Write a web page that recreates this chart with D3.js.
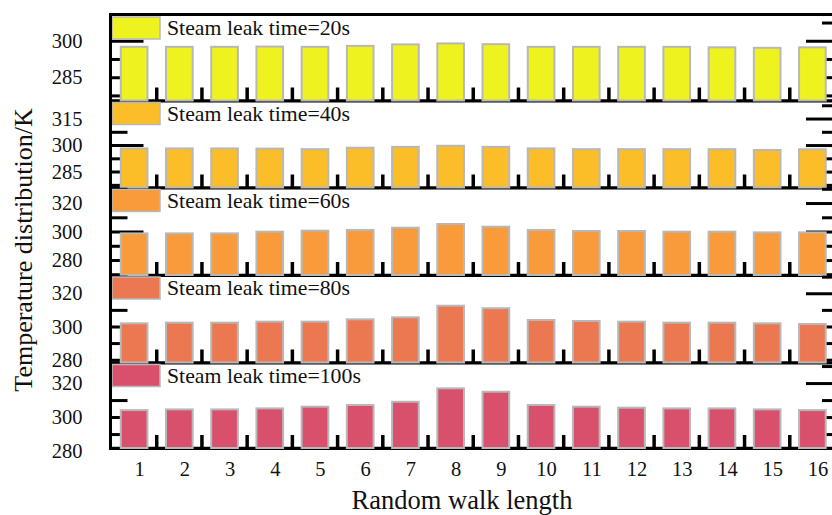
<!DOCTYPE html>
<html>
<head>
<meta charset="utf-8">
<script src="https://cdn.jsdelivr.net/npm/d3@7/dist/d3.min.js"></script>
<style>
  body { margin: 0; background: #fff; }
  text { font-family: "Liberation Serif", "Times New Roman", serif; fill: #111; }
</style>
</head>
<body>
<div id="graph"></div>
<script>
"use strict";

// random walk length categories
const walkLengths = [1, 2, 3, 4, 5, 6, 7, 8, 9, 10, 11, 12, 13, 14, 15, 16];
// steam leak time (s) for each panel
const leakTimes = [20, 40, 60, 80, 100];

// temperature (K) per walk length
const temp20s  = [297.5, 297.5, 297.5, 297.6, 297.5, 297.9, 298.5, 298.9, 298.6, 297.5, 297.5, 297.5, 297.5, 297.3, 297.1, 297.3];
const temp40s  = [298.1, 298.1, 298.1, 298.0, 297.7, 298.5, 299.0, 299.6, 299.0, 298.1, 297.7, 297.7, 297.7, 297.7, 297.2, 297.6];
const temp60s  = [298.7, 298.7, 298.7, 299.9, 300.6, 301.1, 302.7, 305.3, 303.4, 301.1, 300.4, 300.4, 299.9, 299.9, 299.4, 299.4];
const temp80s  = [301.9, 302.3, 302.3, 302.9, 302.9, 304.3, 305.5, 312.5, 311.0, 303.9, 303.3, 302.9, 302.3, 302.3, 301.9, 301.5];
const temp100s = [304.1, 304.5, 304.5, 305.1, 306.1, 307.1, 309.0, 316.9, 314.9, 307.1, 306.1, 305.5, 305.1, 305.1, 304.5, 304.1];

// y ranges and ticks of each panel
const yDomains = [[275.4, 310.6], [276.0, 325.2], [269.5, 330.9], [278.3, 331.0], [281.8, 332.1]];
const yTickLabels = [[300, 285], [315, 300, 285], [320, 300, 280], [320, 300, 280], [320, 300, 280]];
const yMinorTicks = [[277.5, 292.5, 307.5], [277.5, 292.5, 307.5, 322.5], [270, 290, 310, 330], [290, 310, 330], [290, 310, 330]];

const series = [temp20s, temp40s, temp60s, temp80s, temp100s];
const colors = ["#eef21f", "#fbbe29", "#f99b3a", "#ec7852", "#d8506b"];

var width = 832,
    height = 515;

// panel edges top to bottom
const edges = [15, 100.5, 187.5, 275, 362.5, 448];
const left = 110.5, right = 834;

let svg = d3.select("#graph")
    .append("svg")
    .attr("width", width)
    .attr("height", height);

let x = d3.scaleBand()
    .domain(walkLengths)
    .range([111.5, 835])
    .paddingInner(0.41)
    .paddingOuter(0.205);

// boundaries between bars
let bounds = walkLengths.slice(1).map((d, i) => x.range()[0] + x.step() * (i + 1));

series.forEach(function (vals, i) {
    let top = edges[i], bottom = edges[i + 1];
    let dom = yDomains[i];
    let y = d3.scaleLinear().domain(dom).range([bottom, top]);
    let inDom = v => v >= dom[0] && v <= dom[1];
    let g = svg.append("g").attr("class", "panel");

    let majors = yTickLabels[i].filter(inDom);
    let minors = yMinorTicks[i].filter(inDom);

    // ticks pointing inwards, under the bars
    g.append("g").attr("transform", `translate(${left},0)`)
        .call(d3.axisLeft(y).tickValues(majors).tickSize(-33).tickFormat(""));
    g.append("g").attr("transform", `translate(${left},0)`)
        .call(d3.axisLeft(y).tickValues(minors).tickSize(-17).tickFormat(""));
    g.append("g").attr("transform", `translate(${right},0)`)
        .call(d3.axisRight(y).tickValues(majors).tickSize(-28).tickFormat(""));
    g.append("g").attr("transform", `translate(${right},0)`)
        .call(d3.axisRight(y).tickValues(minors).tickSize(-12).tickFormat(""));

    // tick labels
    g.append("g").attr("transform", `translate(${left},0)`)
        .call(d3.axisLeft(y).tickValues(yTickLabels[i]).tickSize(0).tickPadding(28))
        .selectAll("text")
        .attr("font-size", 20.5)
        .attr("font-family", "Liberation Serif, serif");

    g.selectAll(".domain").remove();
    g.selectAll(".tick line").attr("stroke", "#000").attr("stroke-width", 3);

    // baseline
    g.append("line")
        .attr("x1", left).attr("x2", width)
        .attr("y1", bottom + 0.4).attr("y2", bottom + 0.4)
        .attr("stroke", "#000").attr("stroke-width", 3.4);

    g.selectAll(".sep")
        .data(bounds)
        .enter()
        .append("line")
        .attr("x1", d => d).attr("x2", d => d)
        .attr("y1", bottom).attr("y2", bottom - 13)
        .attr("stroke", "#000").attr("stroke-width", 3.5);

    g.selectAll(".bar")
        .data(vals)
        .enter()
        .append("rect")
        .attr("x", (d, j) => x(walkLengths[j]))
        .attr("width", x.bandwidth())
        .attr("y", d => y(d))
        .attr("height", d => bottom - y(d))
        .attr("fill", colors[i])
        .attr("stroke", "#b8b8b8")
        .attr("stroke-width", 2);

    // legend
    g.append("rect")
        .attr("x", 112).attr("y", top + 2)
        .attr("width", 48).attr("height", 22)
        .attr("fill", colors[i])
        .attr("stroke", "#b8b8b8")
        .attr("stroke-width", 1.5);
    g.append("text")
        .attr("x", 167).attr("y", top + 20)
        .attr("font-size", 21.8)
        .text("Steam leak time=" + leakTimes[i] + "s");
});

// frame: top line and left spine
svg.append("line")
    .attr("x1", left - 1.5).attr("x2", width)
    .attr("y1", edges[0] - 0.5).attr("y2", edges[0] - 0.5)
    .attr("stroke", "#000").attr("stroke-width", 3);
svg.append("line")
    .attr("x1", left).attr("x2", left)
    .attr("y1", edges[0] - 2).attr("y2", edges[5] + 2)
    .attr("stroke", "#000").attr("stroke-width", 3);

// x tick labels
svg.append("g")
    .attr("transform", `translate(5.5,${edges[5]})`)
    .call(d3.axisBottom(x).tickSize(0).tickPadding(13))
    .call(g => g.select(".domain").remove())
    .selectAll("text")
    .attr("font-size", 20.5)
    .attr("font-family", "Liberation Serif, serif");

svg.append("text")
    .attr("transform", "translate(32,250) rotate(-90)")
    .attr("text-anchor", "middle")
    .attr("font-size", 26)
    .text("Temperature distribution/K");

svg.append("text")
    .attr("x", 462)
    .attr("y", 509)
    .attr("text-anchor", "middle")
    .attr("font-size", 26.5)
    .text("Random walk length");
</script>
</body>
</html>
